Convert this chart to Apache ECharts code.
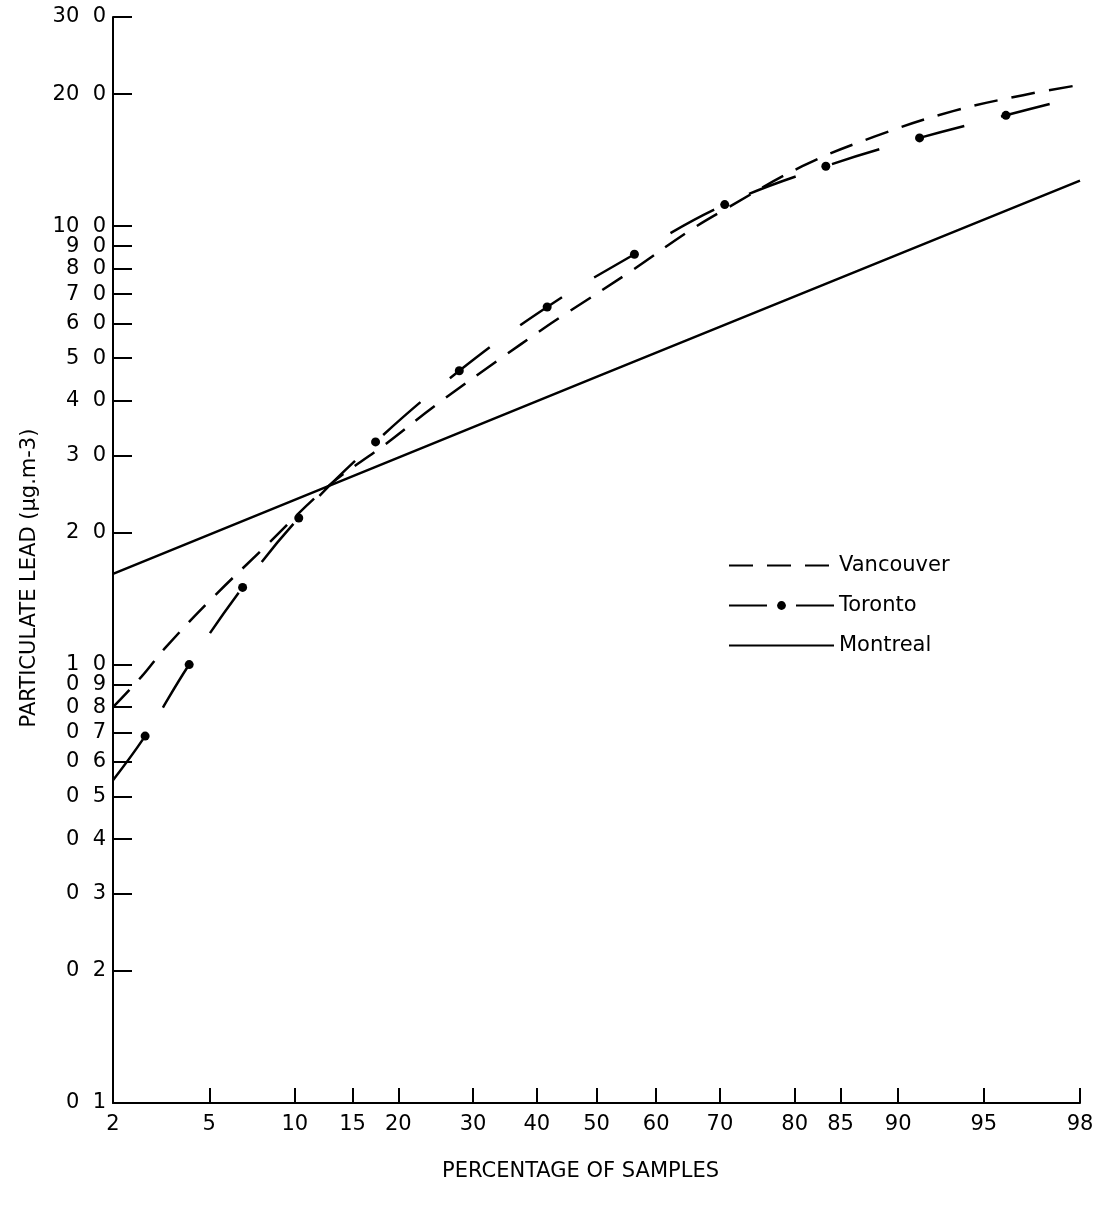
<!DOCTYPE html>
<html>
<head>
<meta charset="utf-8">
<script src="https://cdn.jsdelivr.net/npm/echarts@6/dist/echarts.min.js"></script>
<style>
html,body{margin:0;padding:0;background:#fff;}
#chart{width:1109px;height:1205px;}
</style>
</head>
<body>
<div id="chart"></div>
<script>
// ---- data ----
const xTickPercents = [2, 5, 10, 15, 20, 30, 40, 50, 60, 70, 80, 85, 90, 95, 98];
const yTickValues = [0.1, 0.2, 0.3, 0.4, 0.5, 0.6, 0.7, 0.8, 0.9, 1, 2, 3, 4, 5, 6, 7, 8, 9, 10, 20, 30];
const yTickLabels = ['0  1', '0  2', '0  3', '0  4', '0  5', '0  6', '0  7', '0  8', '0  9',
                     '1  0', '2  0', '3  0', '4  0', '5  0', '6  0', '7  0', '8  0', '9  0',
                     '10  0', '20  0', '30  0'];

const seriesNames = ['Vancouver', 'Toronto', 'Montreal'];

const vancouverPct  = [2, 2.67, 3.34, 5.03, 7.85, 12.7, 18.3, 24.6, 33.6, 41.4, 45.0, 55.3, 65.3, 70.2, 80.9, 88.1, 93.5, 96.5, 98];
const vancouverLead = [0.80, 0.94, 1.09, 1.40, 1.84, 2.55, 3.16, 3.89, 4.92, 5.88, 6.34, 7.81, 9.75, 10.8, 13.7, 16.0, 18.3, 19.9, 21.0];

const torontoPct  = [2, 2.76, 4.18, 6.64, 10.3, 17.4, 28.0, 41.7, 56.4, 70.7, 83.5, 91.5, 95.9, 98];
const torontoLead = [0.545, 0.687, 1.00, 1.50, 2.16, 3.22, 4.68, 6.54, 8.63, 11.2, 13.7, 15.9, 17.9, 19.8];
const torontoDot  = [false, true, true, true, true, true, true, true, true, true, true, true, true, false];

const montrealPct  = [2, 50, 98];
const montrealLead = [1.61, 4.53, 12.7];

// ---- scale transforms: normal-probability x, logarithmic y ----
function probit(p) {
  const a = [-3.969683028665376e+01, 2.209460984245205e+02, -2.759285104469687e+02, 1.383577518672690e+02, -3.066479806614716e+01, 2.506628277459239e+00];
  const b = [-5.447609879822406e+01, 1.615858368580409e+02, -1.556989798598866e+02, 6.680131188771972e+01, -1.328068155288572e+01];
  const c = [-7.784894002430293e-03, -3.223964580411365e-01, -2.400758277161838e+00, -2.549732539343734e+00, 4.374664141464968e+00, 2.938163982698783e+00];
  const d = [7.784695709041462e-03, 3.224671290700398e-01, 2.445134137142996e+00, 3.754408661907416e+00];
  const pl = 0.02425, ph = 1 - pl;
  let q, r;
  if (p < pl) {
    q = Math.sqrt(-2 * Math.log(p));
    return (((((c[0]*q+c[1])*q+c[2])*q+c[3])*q+c[4])*q+c[5]) / ((((d[0]*q+d[1])*q+d[2])*q+d[3])*q+1);
  }
  if (p <= ph) {
    q = p - 0.5; r = q*q;
    return (((((a[0]*r+a[1])*r+a[2])*r+a[3])*r+a[4])*r+a[5])*q / (((((b[0]*r+b[1])*r+b[2])*r+b[3])*r+b[4])*r+1);
  }
  q = Math.sqrt(-2 * Math.log(1 - p));
  return -(((((c[0]*q+c[1])*q+c[2])*q+c[3])*q+c[4])*q+c[5]) / ((((d[0]*q+d[1])*q+d[2])*q+d[3])*q+1);
}
const px = pct => probit(pct / 100);
const ly = v => Math.log10(v);

const xTickPos = xTickPercents.map(px);
const yTickPos = yTickValues.map(ly);

const FONT = 'DejaVu Sans';
const INK = '#000';

function xLabel(v) {
  const i = xTickPos.findIndex(t => Math.abs(t - v) < 1e-6);
  return i >= 0 ? String(xTickPercents[i]) : '';
}
function yLabel(v) {
  const i = yTickPos.findIndex(t => Math.abs(t - v) < 1e-6);
  return i >= 0 ? yTickLabels[i] : '';
}

const chart = echarts.init(document.getElementById('chart'), null, {renderer: 'canvas'});

chart.setOption({
  animation: false,
  backgroundColor: '#fff',
  grid: {left: 113, right: 29, top: 17, bottom: 102, containLabel: false},
  legend: {
    orient: 'vertical',
    left: 723,
    top: 550,
    itemWidth: 105,
    itemHeight: 11,
    itemGap: 19,
    textStyle: {fontFamily: FONT, fontSize: 21, color: INK},
    data: [
      {name: seriesNames[0], itemStyle: {opacity: 0}},
      {name: seriesNames[1], lineStyle: {type: [38, 29]}},
      {name: seriesNames[2], itemStyle: {opacity: 0}}
    ]
  },
  xAxis: {
    type: 'value',
    min: px(xTickPercents[0]),
    max: px(xTickPercents[xTickPercents.length - 1]),
    name: 'PERCENTAGE OF SAMPLES',
    nameLocation: 'middle',
    nameGap: 58,
    nameTextStyle: {fontFamily: FONT, fontSize: 21, color: INK, padding: [0, 32, 0, 0]},
    axisLine: {onZero: false, lineStyle: {color: INK, width: 2}},
    axisTick: {inside: true, length: 15, customValues: xTickPos, lineStyle: {color: INK, width: 2}},
    axisLabel: {customValues: xTickPos, formatter: xLabel, margin: 11, color: INK, fontFamily: FONT, fontSize: 21},
    splitLine: {show: false}
  },
  yAxis: {
    type: 'value',
    min: ly(yTickValues[0]),
    max: ly(yTickValues[yTickValues.length - 1]),
    name: 'PARTICULATE LEAD (µg.m-3)',
    nameLocation: 'middle',
    nameGap: 73,
    nameTextStyle: {fontFamily: FONT, fontSize: 21, color: INK, padding: [0, 36, 0, 0]},
    axisLine: {onZero: false, lineStyle: {color: INK, width: 2}},
    axisTick: {inside: true, length: 19, customValues: yTickPos, lineStyle: {color: INK, width: 2}},
    axisLabel: {customValues: yTickPos, formatter: yLabel, margin: 7, color: INK, fontFamily: FONT, fontSize: 21},
    splitLine: {show: false}
  },
  series: [
    {
      name: seriesNames[0],
      type: 'line',
      smooth: 0.4,
      symbol: 'none',
      lineStyle: {color: INK, width: 2.5, type: [24, 14]},
      itemStyle: {color: INK},
      data: vancouverPct.map((p, i) => [px(p), ly(vancouverLead[i])])
    },
    {
      name: seriesNames[1],
      type: 'line',
      smooth: 0.4,
      symbol: 'circle',
      symbolSize: 9,
      lineStyle: {color: INK, width: 2.5, type: [50, 38]},
      itemStyle: {color: INK},
      data: torontoPct.map((p, i) => ({
        value: [px(p), ly(torontoLead[i])],
        symbol: torontoDot[i] ? 'circle' : 'none'
      }))
    },
    {
      name: seriesNames[2],
      type: 'line',
      smooth: false,
      symbol: 'none',
      lineStyle: {color: INK, width: 2.5, type: 'solid'},
      itemStyle: {color: INK},
      data: montrealPct.map((p, i) => [px(p), ly(montrealLead[i])])
    }
  ]
});
</script>
</body>
</html>
